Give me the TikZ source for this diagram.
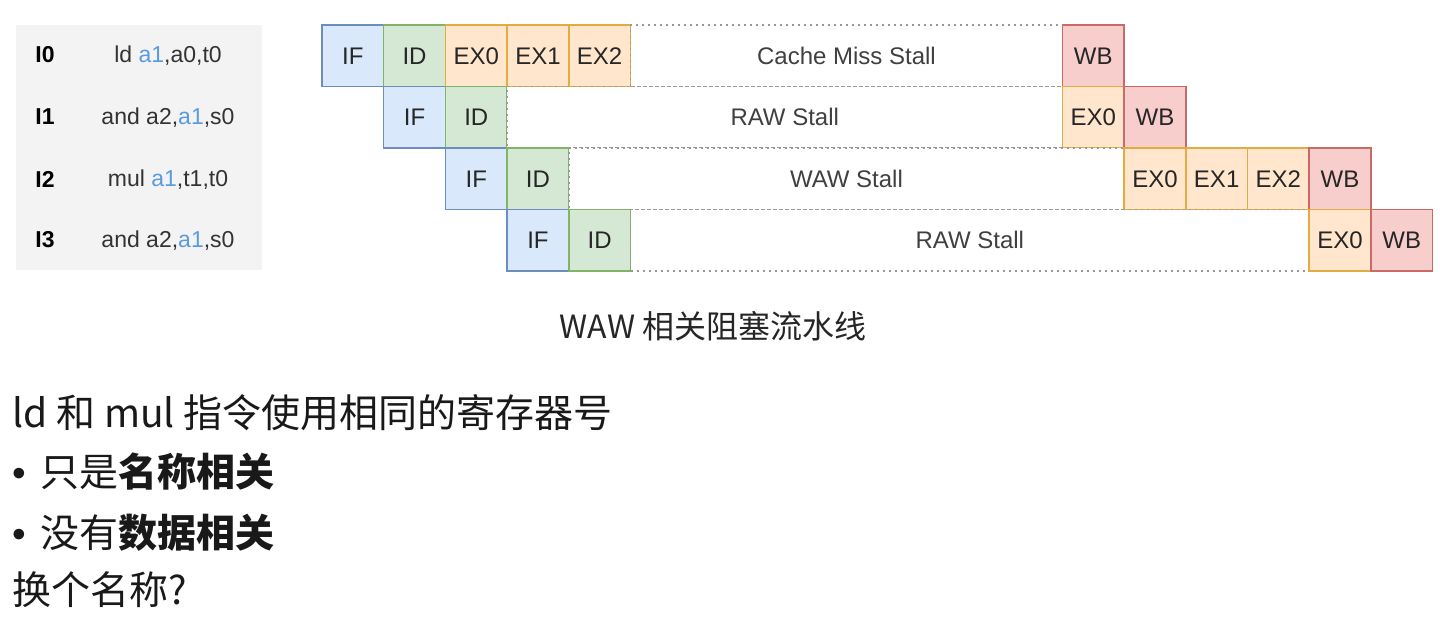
\documentclass[tikz,border=0pt]{standalone}
\usepackage{fontspec}
\setmainfont{Liberation Sans}
\newfontfamily\cjk{Noto Sans CJK SC}
\usetikzlibrary{positioning}

\definecolor{ifFill}{HTML}{DAE8FC}\definecolor{ifLine}{HTML}{6C8EBF}
\definecolor{idFill}{HTML}{D5E8D4}\definecolor{idLine}{HTML}{82B366}
\definecolor{exFill}{HTML}{FFE6CC}\definecolor{exLine}{HTML}{E3AC42}
\definecolor{wbFill}{HTML}{F8CECC}\definecolor{wbLine}{HTML}{C96A66}
\definecolor{regBlue}{HTML}{5A9BE0}
\definecolor{tblGray}{HTML}{F3F3F3}
\definecolor{txt}{HTML}{262626}

\newcommand{\rega}{\textcolor{regBlue}{a1}}
\newcommand{\bul}{{\rmfamily •}\hspace{7pt}}

\tikzset{
  cell/.style={draw, line width=0.75pt, minimum width=30.85pt, minimum height=30.75pt,
    inner sep=0pt, outer sep=0pt, text=txt, font=\fontsize{12}{12}\selectfont},
  fetch/.style={cell, fill=ifFill, draw=ifLine},
  decode/.style={cell, fill=idFill, draw=idLine},
  exec/.style={cell, fill=exFill, draw=exLine},
  wback/.style={cell, fill=wbFill, draw=wbLine},
  stall/.style={cell, fill=white, draw=gray!80, dash pattern=on 1pt off 2pt,
    text=black!75, minimum width=#1*30.85pt},
  lbl/.style={font=\fontsize{11.5}{11.5}\selectfont\bfseries, text=black},
  instr/.style={font=\fontsize{11.5}{11.5}\selectfont, text=black!80},
  body/.style={anchor=west, inner sep=0pt, font=\cjk\fontsize{19.5}{19.5}\selectfont, text=black!90}
}

\begin{document}
\begin{tikzpicture}[x=0.5pt,y=0.5pt]
  \useasboundingbox (0,0) rectangle (1440,-629);

  % instruction table
  \fill[tblGray] (16,-25) rectangle (262,-270);
  \node[lbl] (L0) at (45,-55) {I0};
  \node[lbl] (L1) at (45,-117) {I1};
  \node[lbl] (L2) at (45,-179) {I2};
  \node[lbl] (L3) at (45,-240) {I3};
  \node[instr] (N0) at (168,-56) {ld \rega,a0,t0};
  \node[instr] (N1) at (168,-118) {and a2,\rega,s0};
  \node[instr] (N2) at (168,-180) {mul \rega,t1,t0};
  \node[instr] (N3) at (168,-241) {and a2,\rega,s0};

  % I0
  \node[fetch] (IF0) at (352.85,-55.75) {IF};
  \node[decode, right=0pt of IF0] (ID0) {ID};
  \node[exec, right=0pt of ID0] (EXa0) {EX0};
  \node[exec, right=0pt of EXa0] (EXb0) {EX1};
  \node[exec, right=0pt of EXb0] (EXc0) {EX2};
  \node[stall=7, right=0pt of EXc0] (S0) {Cache Miss Stall};
  \node[wback, right=0pt of S0] (WB0) {WB};

  % I1
  \node[fetch, below=0pt of ID0] (IF1) {IF};
  \node[decode, right=0pt of IF1] (ID1) {ID};
  \node[stall=9, right=0pt of ID1] (S1) {RAW Stall};
  \node[exec, right=0pt of S1] (EXa1) {EX0};
  \node[wback, right=0pt of EXa1] (WB1) {WB};

  % I2
  \node[fetch, below=0pt of ID1] (IF2) {IF};
  \node[decode, right=0pt of IF2] (ID2) {ID};
  \node[stall=9, right=0pt of ID2] (S2) {WAW Stall};
  \node[exec, right=0pt of S2] (EXa2) {EX0};
  \node[exec, right=0pt of EXa2] (EXb2) {EX1};
  \node[exec, right=0pt of EXb2] (EXc2) {EX2};
  \node[wback, right=0pt of EXc2] (WB2) {WB};

  % I3
  \node[fetch, below=0pt of ID2] (IF3) {IF};
  \node[decode, right=0pt of IF3] (ID3) {ID};
  \node[stall=11, right=0pt of ID3] (S3) {RAW Stall};
  \node[exec, right=0pt of S3] (EXa3) {EX0};
  \node[wback, right=0pt of EXa3] (WB3) {WB};

  % caption and notes
  \node[font=\cjk\fontsize{16}{16}\selectfont, text=black!85] (T) at (713,-326) {WAW 相关阻塞流水线};
  \node[body] (B1) at (12,-413) {ld 和 mul 指令使用相同的寄存器号};
  \node[body] (B2) at (12,-472) {\bul 只是\textbf{名称相关}};
  \node[body] (B3) at (12,-533) {\bul 没有\textbf{数据相关}};
  \node[body] (B4) at (12,-590) {换个名称?};
\end{tikzpicture}
\end{document}
